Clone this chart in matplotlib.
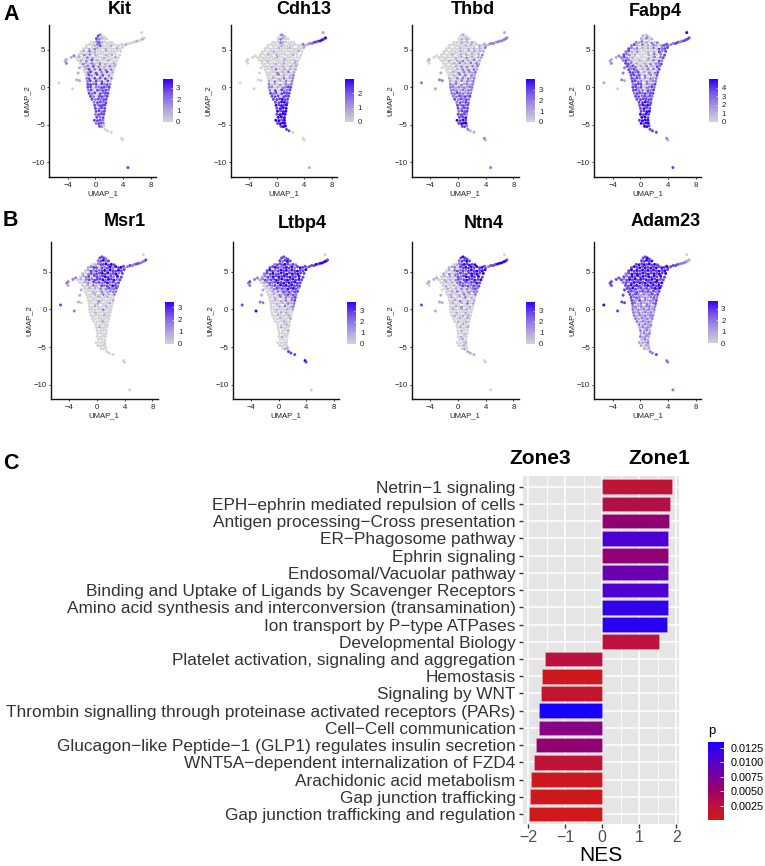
import matplotlib
matplotlib.use("Agg")
import matplotlib.pyplot as plt
from matplotlib.colors import LinearSegmentedColormap, Normalize
from matplotlib.cm import ScalarMappable

plt.rcParams['font.family'] = ['Liberation Sans', 'DejaVu Sans']

W, H = 765, 866

# ---------- UMAP embedding ----------
umap_1_rows = [
    [4.0,4.4,4.75,5.1,5.4,5.7,6.0,6.3,6.6,6.85,7.05,6.7],
    [.4,.7,1.0,1.3],
    [.15,.55,.9,1.25,1.65],
    [-.6,-.2,.2,.55,.9,1.3,1.65,2.05,2.45],
    [-1.3,-.9,-.5,-.1,.3,.7,1.1,1.5,1.9,2.3,2.7,3.1,3.45,3.8],
    [-1.7,-1.3,-.9,-.5,-.1,.3,.7,1.1,1.5,1.9,2.3,2.7,3.1,3.5,3.9],
    [-2.1,-1.7,-1.25,-.85,-.45,-.05,.35,.75,1.15,1.55,1.95,2.35,2.75,3.15,3.65],
    [-2.4,-2,-1.6,-1.2,-.8,-.4,0,.4,.8,1.2,1.6,2,2.4,2.95,3.5],
    [-2.75,-2.35,-1.95,-1.55,-1.15,-.75,-.35,.05,.45,.85,1.25,1.65,2.05,2.45,2.9,3.3],
    [-2.5,-2.1,-1.7,-1.3,-.9,-.5,-.1,.3,.7,1.1,1.5,1.9,2.3,2.7,3.1],
    [-2.15,-1.75,-1.35,-.95,-.55,-.15,.25,.65,1.05,1.45,1.85,2.25,2.65,3.0],
    [-1.9,-1.5,-1.1,-.7,-.3,.1,.5,.9,1.3,1.7,2.1,2.45,2.8],
    [-1.7,-1.3,-.9,-.5,-.1,.3,.7,1.1,1.5,1.9,2.3,2.7],
    [-1.5,-1.1,-.7,-.3,.1,.5,.9,1.3,1.7,2.1,2.5],
    [-1.35,-.95,-.55,-.15,.25,.65,1.05,1.5,1.95,2.4],
    [-1.25,-.9,-.5,-.1,.3,.7,1.05,1.45,1.85,2.3],
    [-1.15,-.75,-.3,.1,.55,.95,1.35,1.8,2.2],
    [-1.1,-.7,-.3,.1,.5,.9,1.3,1.7,2.1],
    [-1.1,-.7,-.3,.1,.5,.9,1.25,1.65,2],
    [-1,-.6,-.2,.3,.7,1.1,1.5,1.9],
    [-.9,-.5,-.1,.3,.7,1.05,1.45,1.8],
    [-.7,-.25,.2,.6,1,1.35,1.7],
    [-.5,0,.4,.8,1.2,1.55],
    [-.2,.3,.7,1.1,1.5],
    [-.1,.35,.7,1.05,1.4],
    [0,.5,.9,1.35],
    [.1,.55,.95,1.3],
    [0,.45,.85,1.2],
    [.2,.65,1.1],
    [-.15,.3,.7,1.1],
    [.1,.5,.85,1.15],
    [.6,.95,1.25],
    [1.4,1.75],
    [-5.3,-3.3,-4.4,-4.2,-4.2,-3.5,-3.1,-2.7,-2.3,-2.5,-2.3,2.3,3.8,3.95,4.7],
]
umap_2_rows = [
    [5.55,5.7,5.85,5.85,6.0,6.05,6.15,6.2,6.35,6.45,6.6,7.3],
    [6.85,7.0,6.85,6.7],
    [6.5,6.4,6.55,6.4,6.45],
    [6.0,5.95,6.1,5.95,6.0,6.05,5.9,6.0,5.95],
    [5.55,5.7,5.6,5.55,5.7,5.55,5.6,5.5,5.65,5.55,5.7,5.55,5.6,5.75],
    [5.15,5.25,5.1,5.2,5.1,5.25,5.15,5.2,5.1,5.25,5.15,5.1,5.2,5.15,5.3],
    [4.75,4.85,4.7,4.8,4.75,4.7,4.85,4.8,4.7,4.85,4.75,4.8,4.7,4.85,4.8],
    [4.35,4.45,4.3,4.4,4.35,4.5,4.3,4.4,4.45,4.35,4.3,4.45,4.35,4.4,4.3],
    [3.95,4.05,3.9,4,3.95,4.05,3.9,4,4.05,3.95,3.9,4,4.05,3.9,4,3.95],
    [3.6,3.55,3.65,3.5,3.6,3.65,3.55,3.6,3.5,3.65,3.55,3.6,3.65,3.5,3.55],
    [3.2,3.1,3.25,3.15,3.2,3.1,3.25,3.15,3.2,3.1,3.25,3.15,3.2,3.1],
    [2.8,2.75,2.85,2.7,2.8,2.85,2.75,2.8,2.7,2.85,2.8,2.75,2.85],
    [2.35,2.45,2.4,2.3,2.4,2.45,2.35,2.4,2.3,2.45,2.35,2.4],
    [2,1.95,2.05,2,1.9,2.05,2,1.95,2.05,1.9,2],
    [1.6,1.65,1.55,1.6,1.7,1.55,1.6,1.65,1.55,1.6],
    [1.2,1.15,1.25,1.2,1.1,1.25,1.2,1.15,1.25,1.2],
    [.8,.85,.75,.8,.9,.75,.8,.85,.8],
    [.4,.35,.45,.4,.3,.45,.4,.35,.4],
    [0,.05,-.05,0,.05,-.05,0,.05,0],
    [-.4,-.35,-.45,-.4,-.35,-.45,-.4,-.35],
    [-.8,-.85,-.75,-.8,-.85,-.75,-.8,-.8],
    [-1.2,-1.25,-1.15,-1.2,-1.25,-1.15,-1.2],
    [-1.6,-1.65,-1.55,-1.6,-1.65,-1.6],
    [-2,-2.05,-1.95,-2,-2.05],
    [-2.4,-2.35,-2.45,-2.4,-2.35],
    [-2.8,-2.85,-2.75,-2.8],
    [-3.2,-3.15,-3.25,-3.2],
    [-3.6,-3.65,-3.55,-3.6],
    [-4.0,-3.95,-4.05],
    [-4.4,-4.45,-4.35,-4.4],
    [-4.8,-4.85,-4.75,-4.8],
    [-5.2,-5.25,-5.15],
    [-5.6,-5.8],
    [.6,-.2,3.5,3.2,3.7,4.0,4.2,1.0,.9,1.9,2.6,-6,-6.8,-7,-10.7],
]

# Expression level per point, digit d means d/4 of the gene's colour-bar maximum
kit_levels = """010000100100 3200 32100 002310000 00012300010000 001021001000100 010201000100000
002020100010100 0100201000100010 010203010001000 02102102010010 0120302010201 013020302020
02303020301 0320303020 2303130302 230313030 332303232 330223323 23032332 32303233 3203323
323233 23323 32333 3233 3323 2333 323 3332 2332 320 00 001211211110003"""
cdh13_levels = """112233344341 0210 02100 000210000 00000100000002 000001000100001 000010000000010
000100100000100 0000000100000000 000100000100010 00000100100010 0001000100101 000020010101
00002010201 0000201012 0010102012 102010202 201020212 220102233 20303223 32303333 3330333
333433 33443 43434 3444 4344 3444 444 4434 3444 344 33 000000000000001"""
thbd_levels = """112212222221 0100 01010 000101010 00000010100101 000001001010102 000000100101011
000010010101012 0000001010201011 000100102010201 00001020102021 0000102020202 000010202021
00102020212 0010202021 1002020212 102020212 212021212 221212122 22212122 22322122 2232323
323232 23232 32323 3233 2333 3332 334 4343 3444 332 21 210010022101212"""
fabp4_levels = """222332233334 1010 10201 212010202 23102010210233 321201010203233 231020001010323
322010000102023 2320100000102023 232100100102032 33201001020223 3232010201032 323201020203
33230102023 3323020203 3232020212 332202122 233302123 332302232 33220323 23323233 3323232
333333 33433 34343 3433 3344 4343 443 3444 4344 443 33 101211221223213"""
msr1_levels = """123223322230 3332 23423 012334343 12330323424343 013232342433433 102323343423423
012303323433243 0102323334243423 001203232342323 00102103232432 0010102023223 000100201222
00010020102 0000100100 0000200001 000100010 001000100 000002000 00100000 00000100 0000000
000100 00000 01000 0000 0000 0000 000 0000 0000 000 00 322122210110000"""
ltbp4_levels = """233343444430 3323 32343 233343232 33432343423433 343234342434334 233423434343433
123243434343343 1232334343434343 012323434343433 01223243434333 0012323243432 001021323233
00102123232 0010202123 0010102023 001010212 000102012 001000101 00010100 00100010 0010001
000100 00010 01000 0001 0000 0100 000 0000 0000 011 33 342232222113430"""
ntn4_levels = """223334444430 3433 23343 012343434 11203343434343 010232323434344 102012323343434
010102323434343 0010102323433434 001010232323343 01001023232323 0100102021232 001020102122
01001020102 0100102010 0010200101 010010201 001020010 010010100 00100100 01001010 0010010
010010 00100 01001 0100 0010 0100 010 0001 0010 010 11 311011111101000"""
adam23_levels = """333332222110 3343 33434 343434343 34343434343434 343434343434343 234343434343434
323434343434343 3234343434343433 232343434343434 33434323434343 3343232323434 332323232323
32321212323 3232121232 3213121223 321212123 221212212 212121212 21212121 21212122 2121212
212121 21212 12121 2121 1212 2121 121 1112 1011 101 22 433333333333222"""

genes = ["Kit", "Cdh13", "Thbd", "Fabp4", "Msr1", "Ltbp4", "Ntn4", "Adam23"]
gene_levels = [kit_levels, cdh13_levels, thbd_levels, fabp4_levels,
               msr1_levels, ltbp4_levels, ntn4_levels, adam23_levels]
gene_max = [3.75, 3.0, 4.0, 5.0, 3.45, 3.78, 3.78, 3.7]
gene_ticks = [[0,1,2,3], [0,1,2], [0,1,2,3], [0,1,2,3,4], [0,1,2,3], [0,1,2,3], [0,1,2,3], [0,1,2,3]]

# ---------- GSEA bars ----------
pathways = [
    "Netrin\u22121 signaling", "EPH\u2212ephrin mediated repulsion of cells",
    "Antigen processing\u2212Cross presentation", "ER\u2212Phagosome pathway",
    "Ephrin signaling", "Endosomal/Vacuolar pathway",
    "Binding and Uptake of Ligands by Scavenger Receptors",
    "Amino acid synthesis and interconversion (transamination)",
    "Ion transport by P\u2212type ATPases", "Developmental Biology",
    "Platelet activation, signaling and aggregation", "Hemostasis", "Signaling by WNT",
    "Thrombin signalling through proteinase activated receptors (PARs)",
    "Cell\u2212Cell communication",
    "Glucagon\u2212like Peptide\u22121 (GLP1) regulates insulin secretion",
    "WNT5A\u2212dependent internalization of FZD4", "Arachidonic acid metabolism",
    "Gap junction trafficking", "Gap junction trafficking and regulation",
]
nes = [1.88, 1.84, 1.81, 1.78, 1.78, 1.77, 1.77, 1.76, 1.75, 1.54,
       -1.55, -1.62, -1.65, -1.71, -1.71, -1.80, -1.85, -1.93, -1.95, -1.97]
pvals = [.0022, .0032, .0058, .0105, .0058, .0085, .0105, .0122, .0125, .0024,
         .0026, .0004, .0016, .0135, .0065, .0058, .0020, .0005, .0003, .0002]
p_ticks = [.0025, .0050, .0075, .0100, .0125]

gene_cmap = LinearSegmentedColormap.from_list("g", ["#d3d3d3", "#aa9ae2", "#7a5ae6", "#3300f0"])
p_cmap = LinearSegmentedColormap.from_list("p", ["#cf1a1a", "#b8123f", "#98006a", "#7000a8", "#4a00d8", "#1800ff"])


def px_axes(left, top, right, bottom, **kw):
    return fig.add_axes([left / W, 1 - bottom / H, (right - left) / W, (bottom - top) / H], **kw)


fig = plt.figure(figsize=(W / 100, H / 100), dpi=100, facecolor="white")

xs = [v for r in umap_1_rows for v in r]
ys = [v for r in umap_2_rows for v in r]
row_sizes = [len(r) for r in umap_1_rows]

panel_left = [49.3, 230.7, 412, 594.3, 51, 232.7, 412, 594.3]
panel_top = [24.7] * 4 + [242.3] * 4
panel_bottom = [177.3] * 4 + [399.3] * 4
panel_ylim = [(-12, 8.35)] * 4 + [(-11.95, 8.94)] * 4
cbar_left = [163.3, 344.7, 526, 708.7, 165, 347, 526, 708.3]
cbar_y = [(79.3, 121.7)] * 4 + [(302, 344)] * 3 + [(300.7, 343.3)]
title_x = [120, 303.7, 473, 655.7, 125, 302, 484, 666]
title_y = [9, 9, 9, 11, 221.7, 223, 223, 222]

for i, gene in enumerate(genes):
    rows = gene_levels[i].split()
    digits = "".join(r[:n].ljust(n, "0") for r, n in zip(rows, row_sizes))
    vals = [int(d) / 4 * gene_max[i] for d in digits]
    L = panel_left[i]
    ax = px_axes(L, panel_top[i], L + 106.6, panel_bottom[i])
    ax.scatter(xs, ys, c=vals, cmap=gene_cmap, vmin=0, vmax=gene_max[i], s=4.6, linewidths=0)
    ax.set_xlim(-6.67, 8.75)
    ax.set_ylim(*panel_ylim[i])
    ax.set_xticks([-4, 0, 4, 8], ["\u22124", "0", "4", "8"])
    ax.set_yticks([-10, -5, 0, 5], ["\u221210", "\u22125", "0", "5"])
    ax.tick_params(labelsize=5.6, length=1.6, width=0.6, pad=1.5, colors="#222222")
    for s in ("top", "right"):
        ax.spines[s].set_visible(False)
    for s in ("left", "bottom"):
        ax.spines[s].set_linewidth(1.0)
        ax.spines[s].set_color("#111111")
    ax.set_xlabel("UMAP_1", fontsize=5.6, labelpad=1.5, color="#222222")
    ax.set_ylabel("UMAP_2", fontsize=5.6, labelpad=1.0, color="#222222")
    fig.text(title_x[i] / W, 1 - title_y[i] / H, gene, fontsize=13, fontweight="bold",
             ha="center", va="center", color="black")
    cy0, cy1 = cbar_y[i]
    cax = px_axes(cbar_left[i], cy0, cbar_left[i] + 9.4, cy1)
    cb = fig.colorbar(ScalarMappable(Normalize(0, gene_max[i]), gene_cmap), cax=cax)
    cb.outline.set_visible(False)
    cb.set_ticks(gene_ticks[i])
    cax.tick_params(labelsize=5.6, length=1.5, width=0.4, color="white", direction="in", pad=2.5,
                    labelcolor="#222222")

for letter, x, y in [("A", 3, 14.5), ("B", 3, 220.5), ("C", 3, 463.5)]:
    fig.text(x / W, 1 - y / H, letter, fontsize=15.5, fontweight="bold", ha="left", va="center")

# ---------- bar panel ----------
ax = px_axes(523.3, 476, 679, 824)
ax.set_facecolor("#e5e5e5")
norm = Normalize(0, 0.0135)
positions = list(range(len(pathways)))
ax.barh(positions, nes, height=0.85, color=p_cmap(norm(pvals)), zorder=3,
        edgecolor="#ffffff55", linewidth=0.4)
ax.set_xlim(-2.13, 2.07)
ax.set_ylim(19.58, -0.62)
ax.set_xticks([-2, -1, 0, 1, 2], ["\u22122", "\u22121", "0", "1", "2"])
ax.set_xticks([-1.5, -0.5, 0.5, 1.5], minor=True)
ax.set_yticks(positions, pathways)
ax.grid(True, which="major", color="white", linewidth=1.1, zorder=1)
ax.grid(True, which="minor", axis="x", color="white", linewidth=0.6, zorder=1)
ax.set_axisbelow(True)
ax.tick_params(axis="x", which="major", labelsize=11.5, length=3, width=1, color="#333333",
               labelcolor="#4d4d4d", pad=1.5)
ax.tick_params(axis="x", which="minor", length=0)
ax.tick_params(axis="y", labelsize=12.45, length=3, width=1, color="#333333", labelcolor="#333333", pad=2.5)
for s in ax.spines.values():
    s.set_visible(False)
ax.set_xlabel("NES", fontsize=15, labelpad=0.5)
fig.text(540 / W, 1 - 459 / H, "Zone3", fontsize=15, fontweight="bold", ha="center", va="center")
fig.text(659 / W, 1 - 459 / H, "Zone1", fontsize=15, fontweight="bold", ha="center", va="center")

cax = px_axes(708.3, 742, 724.3, 820)
cb = fig.colorbar(ScalarMappable(norm, p_cmap), cax=cax)
cb.outline.set_visible(False)
cb.set_ticks(p_ticks)
cb.set_ticklabels(["0.0025", "0.0050", "0.0075", "0.0100", "0.0125"])
cax.tick_params(labelsize=7.8, length=3, width=0.5, color="white", direction="in", pad=4.5, labelcolor="black")
fig.text(708.5 / W, 1 - 731 / H, "p", fontsize=9.5, ha="left", va="center")

fig.savefig("out.png", dpi=100)
